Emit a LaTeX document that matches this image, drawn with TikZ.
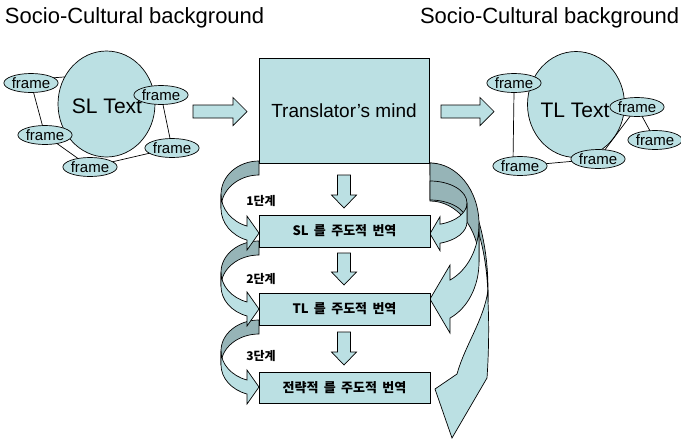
\documentclass[tikz,border=0pt]{standalone}
\usepackage{fontspec}
\setmainfont{Liberation Sans}
\newfontfamily\kr[WordSpace=1.8]{Noto Sans CJK KR}
\usetikzlibrary{calc,shapes.geometric}
\definecolor{pale}{RGB}{187,224,227}
\definecolor{shade}{RGB}{150,180,183}

% Ribbon-style bent arrow: dark back face on top, light front face with head below.
% #1 = 1 bulges left (head points right), -1 bulges right (head points left)
% #2 x of the tip, #3 top of the ribbon (measured downwards), #4 x radius, #5 y radius,
% #6 ribbon thickness, #7 head length, #8 head half width
\newcommand\bentarrow[8]{%
  \begin{scope}[shift={(#2,0)},xscale=#1]
    \pgfmathsetmacro\ArcCy{-(#3)-(#5)}
    \pgfmathsetmacro\ArcBe{180+acos((#7)/(#4))}
    \pgfmathsetmacro\ArcYh{\ArcCy-(#6)/2+(#5)*sin(\ArcBe)}
    % back face
    \filldraw[fill=shade] (0,\ArcCy+#5)
      arc[start angle=90,end angle=180,x radius=#4,y radius=#5]
      -- ++(0,-#6)
      arc[start angle=180,end angle=90,x radius=#4,y radius=#5] -- cycle;
    % front face with head
    \filldraw[fill=pale] (-#4,\ArcCy)
      arc[start angle=180,end angle=\ArcBe,x radius=#4,y radius=#5]
      -- (-#7,\ArcYh+#8) -- (0,\ArcYh) -- (-#7,\ArcYh-#8)
      -- (-#7,\ArcYh-#6/2)
      arc[start angle=\ArcBe,end angle=180,x radius=#4,y radius=#5] -- cycle;
  \end{scope}}

% Straight block arrows
\newcommand\rightblock[3]{% x from, x to, y centre
  \filldraw[fill=pale] (#1,-#3+6.5) -- (#2-14,-#3+6.5) -- (#2-14,-#3+14) -- (#2,-#3)
    -- (#2-14,-#3-14) -- (#2-14,-#3-6.5) -- (#1,-#3-6.5) -- cycle;}
\newcommand\downblock[3]{% x centre, y from, y to
  \filldraw[fill=pale] (#1-6.5,-#2) -- (#1+6.5,-#2) -- (#1+6.5,-#3+13) -- (#1+12.5,-#3+13)
    -- (#1,-#3) -- (#1-12.5,-#3+13) -- (#1-6.5,-#3+13) -- cycle;}

\begin{document}
\begin{tikzpicture}[x=1pt,y=1pt,line width=0.7pt,
  every node/.style={inner sep=0pt,outer sep=0pt},
  textcirc/.style={ellipse,draw,fill=pale,minimum width=97,minimum height=106},
  bigtext/.style={font=\fontsize{21}{21}\selectfont},
  frm/.style={ellipse,draw,fill=pale,minimum width=52,minimum height=19,
    font=\fontsize{15}{15}\selectfont},
  mindbox/.style={draw,fill=pale,minimum width=170,minimum height=105,
    font=\fontsize{19}{19}\selectfont},
  stagebox/.style={draw,fill=pale,minimum width=171,minimum height=32,
    font=\kr\bfseries\fontsize{13}{13}\selectfont},
  stagelabel/.style={font=\kr\bfseries\fontsize{12}{12}\selectfont},
  title/.style={anchor=base west,font=\fontsize{22}{22}\selectfont}]
\useasboundingbox (0,0) rectangle (681,-440);

% headings
\node[title] (htl) at (5,-23) {Socio-Cultural background};
\node[title] (htr) at (420,-23) {Socio-Cultural background};

% source side
\node[textcirc] (sl) at (106.5,-104) {};
\node[bigtext] (sltext) at (107,-106) {SL Text};
\node[frm] (a1) at (31,-83) {frame};
\node[frm] (a2) at (161,-95) {frame};
\node[frm] (a3) at (45,-135) {frame};
\node[frm] (a4) at (172,-148) {frame};
\node[frm] (a5) at (90,-167) {frame};
\draw (a1.13) -- (sl.147);
\draw (a1) -- (a3);
\draw (a3) -- (a5);
\draw (a5) -- (a4);
\draw (a2) -- (a4);

% target side
\node[textcirc] (tl) at (576,-104.5) {};
\node[bigtext] (tltext) at (575,-110) {TL Text};
\node[frm] (b1) at (514,-83) {frame};
\node[frm] (b2) at (637,-107) {frame};
\node[frm] (b3) at (655,-140) {frame};
\node[frm] (b4) at (598,-159) {frame};
\node[frm] (b5) at (520,-166) {frame};
\draw (b1.270) -- (b5.127);
\draw (b5) -- (b4);
\draw (b4) -- (b2);
\draw (b2) -- (b3);

% bent arrows on the left (from the bottom up, later ones on top)
\bentarrow{1}{259}{320}{38}{30.8}{14}{12}{17}
\bentarrow{1}{259}{241}{38}{31.3}{14}{12}{17}
\bentarrow{1}{259}{161}{38}{33.4}{14}{12}{17}

% bent arrows on the right: the long one to the bottom first
\filldraw[fill=shade] (430,-163)
  arc[start angle=90,end angle=0,x radius=58,y radius=127]
  -- (488,-302)
  arc[start angle=0,end angle=90,x radius=58,y radius=127] -- cycle;
\filldraw[fill=pale] (488,-290) .. controls (484,-320) and (465,-345) .. (457,-374)
  -- (435,-389) -- (452,-438) -- (487,-378)
  .. controls (489,-350) and (489,-320) .. (488,-302) -- cycle;
\bentarrow{-1}{430}{163}{49}{61.2}{38}{20}{34}
\bentarrow{-1}{430}{181}{37}{22}{19}{10}{17}

% translator box and stages
\node[mindbox] (mind) at (344,-110.5) {Translator’s mind};
\node[stagebox] (s1) at (344.5,-231) {SL 를 주도적 번역};
\node[stagebox] (s2) at (344.5,-309) {TL 를 주도적 번역};
\node[stagebox,minimum height=31] (s3) at (344.5,-387.5) {전략적 를 주도적 번역};
\node[stagelabel] (l1) at (261,-201) {1단계};
\node[stagelabel] (l2) at (261,-279) {2단계};
\node[stagelabel] (l3) at (261,-356) {3단계};

% straight block arrows
\rightblock{193}{247}{111.5}
\rightblock{441}{494}{111.5}
\downblock{344}{175}{208}
\downblock{344}{253}{285}
\downblock{344}{332}{365}
\end{tikzpicture}
\end{document}
